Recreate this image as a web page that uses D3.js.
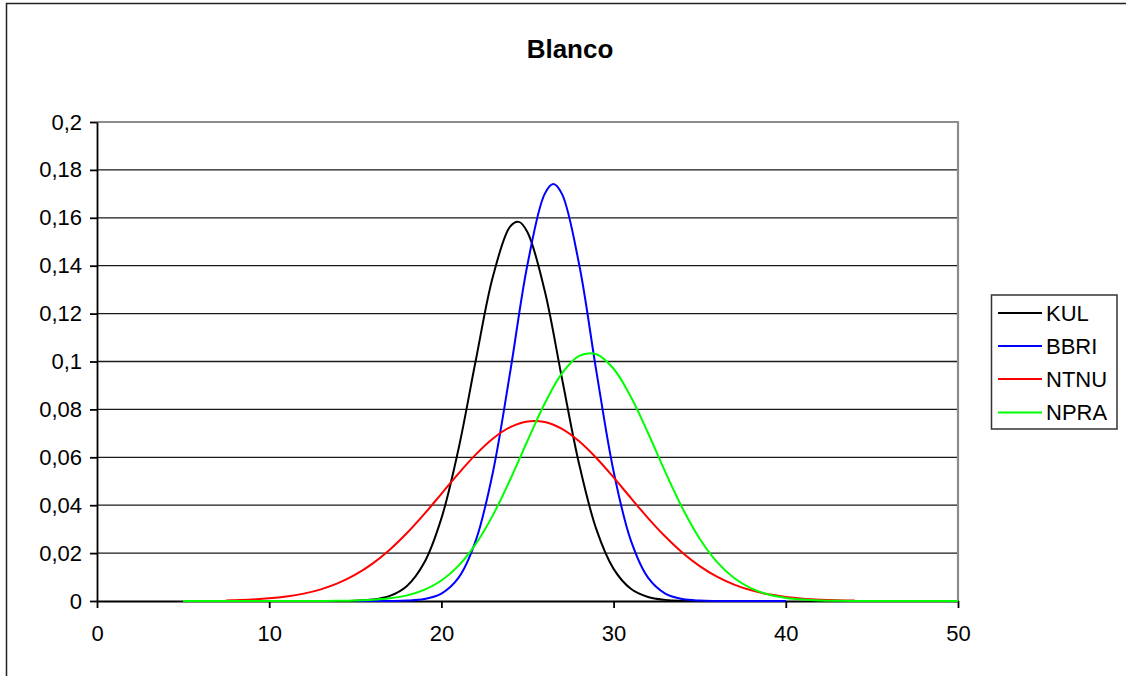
<!DOCTYPE html>
<html>
<head>
<meta charset="utf-8">
<script src="https://cdn.jsdelivr.net/npm/d3@7/dist/d3.min.js"></script>
<style>
  html, body { margin: 0; padding: 0; background: #fff; }
  svg { display: block; }
  text { font-family: "Liberation Sans", Arial, sans-serif; fill: #000; }
</style>
</head>
<body>
<svg id="chart" width="1126" height="676"></svg>
<script>
// Density curves per lab, sampled along the x axis
const kulX = [10, 11, 12, 13, 14, 15, 16, 17, 18, 19, 20, 21, 22, 23, 24, 24.5, 25, 26, 27, 28, 29, 30, 31, 32, 33, 34, 35, 36, 37, 38, 39, 40];
const kulY = [0, 0, 0, 0.00001, 0.00003, 0.00015, 0.00061, 0.00212, 0.0063, 0.01595, 0.0345, 0.0637, 0.1006, 0.1357, 0.1564, 0.1583, 0.154, 0.1295, 0.093, 0.0571, 0.0299, 0.01342, 0.00513, 0.00168, 0.00047, 0.00011, 0.00002, 0, 0, 0, 0, 0];

const bbriX = [15, 16, 17, 18, 19, 20, 21, 22, 23, 24, 25, 26, 26.5, 27, 28, 29, 30, 31, 32, 33, 34, 35, 36, 37, 38, 39, 40];
const bbriY = [0, 0, 0.00003, 0.00018, 0.00082, 0.0031, 0.00974, 0.0253, 0.0541, 0.0959, 0.1405, 0.17, 0.1741, 0.17, 0.1405, 0.0959, 0.0541, 0.0253, 0.00974, 0.0031, 0.00082, 0.00018, 0.00003, 0, 0, 0, 0];

const ntnuX = [7.5, 8, 9, 10, 11, 12, 13, 14, 15, 16, 17, 18, 19, 20, 21, 22, 23, 24, 25, 26, 27, 28, 29, 30, 31, 32, 33, 34, 35, 36, 37, 38, 39, 40, 41, 42, 43, 44];
const ntnuY = [0.00025, 0.00034, 0.00063, 0.0011, 0.00188, 0.00308, 0.00487, 0.00744, 0.01097, 0.0156, 0.02142, 0.02837, 0.03627, 0.04475, 0.05328, 0.06121, 0.06788, 0.07262, 0.07499, 0.07472, 0.07185, 0.06667, 0.05971, 0.0516, 0.04303, 0.03463, 0.0269, 0.02016, 0.01458, 0.01018, 0.00686, 0.00446, 0.0028, 0.00169, 0.00099, 0.00056, 0.0003, 0.00016];

const npraX = [5, 6, 7, 8, 9, 10, 11, 12, 13, 14, 15, 16, 17, 18, 19, 20, 21, 22, 23, 24, 25, 26, 27, 28, 29, 30, 31, 32, 33, 34, 35, 36, 37, 38, 39, 40, 41, 42, 43, 44, 45, 46, 47, 48, 49, 50];
const npraY = [0, 0, 0, 0, 0, 0, 0, 0.00001, 0.00003, 0.00008, 0.0002, 0.00049, 0.00111, 0.00234, 0.00463, 0.00855, 0.01477, 0.02384, 0.03597, 0.05074, 0.0669, 0.08248, 0.09503, 0.10235, 0.10304, 0.09697, 0.0853, 0.07015, 0.05391, 0.03875, 0.02602, 0.01634, 0.00959, 0.00526, 0.0027, 0.00129, 0.00058, 0.00024, 0.00009, 0.00003, 0.00001, 0, 0, 0, 0, 0];

const seriesNames = ["KUL", "BBRI", "NTNU", "NPRA"];
const seriesColors = ["#000000", "#0000ff", "#ff0000", "#00ff00"];

const xTicks = [0, 10, 20, 30, 40, 50];
const yTicks = [0, 0.02, 0.04, 0.06, 0.08, 0.1, 0.12, 0.14, 0.16, 0.18, 0.2];
const yTickLabels = ["0", "0,02", "0,04", "0,06", "0,08", "0,1", "0,12", "0,14", "0,16", "0,18", "0,2"];
const titleText = "Blanco";

const series = [
  { name: seriesNames[0], color: seriesColors[0], pts: kulX.map((x, i) => [x, kulY[i]]) },
  { name: seriesNames[1], color: seriesColors[1], pts: bbriX.map((x, i) => [x, bbriY[i]]) },
  { name: seriesNames[2], color: seriesColors[2], pts: ntnuX.map((x, i) => [x, ntnuY[i]]) },
  { name: seriesNames[3], color: seriesColors[3], pts: npraX.map((x, i) => [x, npraY[i]]) }
];

const svg = d3.select("#chart");
const plot = { left: 97, right: 958, top: 122, bottom: 601 };

const x = d3.scaleLinear().domain([0, 50]).range([plot.left, plot.right]);
const y = d3.scaleLinear().domain([0, 0.2]).range([plot.bottom, plot.top]);

// outer chart frame
svg.append("rect")
  .attr("x", 6.5).attr("y", 3.5)
  .attr("width", 1140).attr("height", 700)
  .attr("fill", "none").attr("stroke", "#222").attr("stroke-width", 1.5);

// title
svg.append("text")
  .attr("x", 570).attr("y", 58)
  .attr("text-anchor", "middle")
  .style("font-size", "26px").style("font-weight", "bold")
  .text(titleText);

// horizontal gridlines
svg.append("g").selectAll("line")
  .data(yTicks.filter(v => v > 0 && v < 0.2))
  .join("line")
  .attr("x1", plot.left).attr("x2", plot.right)
  .attr("y1", d => y(d)).attr("y2", d => y(d))
  .attr("stroke", "#1a1a1a").attr("stroke-width", 1.3);

// grey plot border (top and right)
svg.append("path")
  .attr("d", `M${plot.left},${y(0.2)}H${x(50)}V${plot.bottom}`)
  .attr("fill", "none").attr("stroke", "#8c8c8c").attr("stroke-width", 2.2);

// axes
const yAxis = d3.axisLeft(y).tickValues(yTicks)
  .tickFormat((d, i) => yTickLabels[i]).tickSize(7).tickPadding(8).tickSizeOuter(0);
const xAxis = d3.axisBottom(x).tickValues(xTicks)
  .tickFormat(d => String(d)).tickSize(7).tickPadding(17).tickSizeOuter(0);

const gy = svg.append("g").attr("transform", `translate(${plot.left},0)`).call(yAxis);
const gx = svg.append("g").attr("transform", `translate(0,${plot.bottom})`).call(xAxis);
[gx, gy].forEach(g => {
  g.attr("font-family", null).attr("font-size", null);
  g.selectAll("path, line").attr("stroke", "#000").attr("stroke-width", 1.8);
  g.selectAll("text").style("font-size", "22px").attr("fill", "#000");
});

// curves
const line = d3.line()
  .x(d => x(d[0])).y(d => y(d[1]))
  .curve(d3.curveCatmullRom.alpha(0.5));

svg.append("g").selectAll("path")
  .data(series)
  .join("path")
  .attr("d", d => line(d.pts))
  .attr("fill", "none")
  .attr("stroke", d => d.color)
  .attr("stroke-width", 2);

// legend
const lg = svg.append("g");
lg.append("rect")
  .attr("x", 991.5).attr("y", 295)
  .attr("width", 125.5).attr("height", 134)
  .attr("fill", "#fff").attr("stroke", "#333").attr("stroke-width", 1.5);
const rowY = [313, 346, 379, 412.5];
const item = lg.selectAll("g.item").data(series).join("g").attr("class", "item")
  .attr("transform", (d, i) => `translate(0,${rowY[i]})`);
item.append("line")
  .attr("x1", 998).attr("x2", 1042)
  .attr("stroke", d => d.color).attr("stroke-width", 2);
item.append("text")
  .attr("x", 1046).attr("dy", "0.36em")
  .style("font-size", "22px")
  .text(d => d.name);
</script>
</body>
</html>
